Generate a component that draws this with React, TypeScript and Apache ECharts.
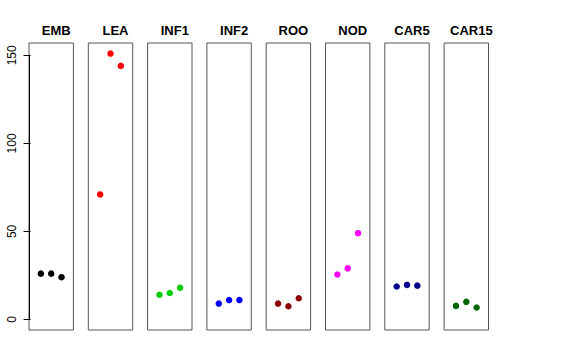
import React, { useEffect, useRef } from "react";
import * as echarts from "echarts";

const categories = ["EMB", "LEA", "INF1", "INF2", "ROO", "NOD", "CAR5", "CAR15"];
const colors = ["#000000", "#FF0000", "#00CD00", "#0000FF", "#8B0000", "#FF00FF", "#00008B", "#006400"];
const values: number[][] = [
  [26, 26, 24],
  [71, 151, 144],
  [14, 15, 18],
  [9, 11, 11],
  [9, 7.5, 12],
  [25.5, 29, 49],
  [18.7, 19.6, 19.2],
  [7.7, 10, 6.8],
];
const yTicks = [0, 50, 100, 150];

export default function App() {
  const ref = useRef<HTMLDivElement>(null);
  useEffect(() => {
    if (!ref.current) return;
    const chart = echarts.init(ref.current, undefined, { renderer: "svg" });
    const xMin = -0.15;
    const xMax = 4.15;
    const left0 = 29;
    const step = 59.3;
    const w = 44.4;
    const grids = categories.map((_, i) => ({
      left: left0 + step * i,
      top: 43,
      width: w,
      height: 287,
      show: true,
      borderColor: "#555555",
      borderWidth: 1,
      backgroundColor: "transparent",
    }));
    const xAxes = categories.map((_, i) => ({
      type: "value",
      gridIndex: i,
      min: xMin,
      max: xMax,
      show: false,
    }));
    const yAxes = categories.map((_, i) => ({
      type: "value",
      gridIndex: i,
      min: -6,
      max: 157,
      interval: 50,
      show: i === 0,
      offset: 1,
      axisLine: { show: false },
      axisTick: { show: i === 0, length: 7, lineStyle: { color: "#000" }, customValues: yTicks },
      axisLabel: {
        show: i === 0,
        rotate: 90,
        margin: 10,
        fontSize: 12,
        color: "#000",
        fontFamily: "Liberation Sans",
        customValues: yTicks,
      },
      splitLine: { show: false },
    }));
    const series = categories.map((_, i) => ({
      type: "scatter",
      xAxisIndex: i,
      yAxisIndex: i,
      symbol: "circle",
      symbolSize: 6.5,
      itemStyle: { color: colors[i], opacity: 1 },
      data: values[i].map((v, j) => [j + 1, v]),
      markLine:
        i === 0
          ? {
              silent: true,
              symbol: "none",
              label: { show: false },
              lineStyle: { color: "#000", width: 1, type: "solid" },
              data: [[{ coord: [xMin, yTicks[0]] }, { coord: [xMin, yTicks[yTicks.length - 1]] }]],
            }
          : undefined,
    }));
    const titles = categories.map((c, i) => ({
      text: c,
      left: left0 + step * i + w / 2,
      top: 19,
      textAlign: "center",
      textStyle: { fontSize: 13, fontWeight: "bold", color: "#000", fontFamily: "Liberation Sans" },
    }));
    chart.setOption({
      animation: false,
      backgroundColor: "#ffffff",
      title: titles,
      grid: grids,
      xAxis: xAxes,
      yAxis: yAxes,
      series,
    });
    return () => chart.dispose();
  }, []);
  return <div ref={ref} style={{ width: 576, height: 360, position: "absolute", left: 0, top: 0 }} />;
}
